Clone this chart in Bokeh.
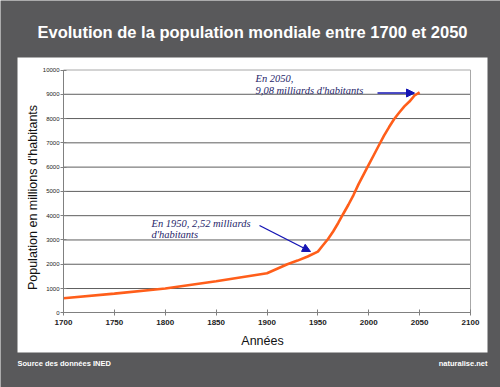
import math
from bokeh.plotting import figure
from bokeh.models import Range1d, FixedTicker, Arrow, NormalHead
from bokeh.core.properties import value
from bokeh.embed import file_html
from bokeh.resources import INLINE

# ---------------- data ----------------
years = [1700, 1750, 1800, 1850, 1900, 1920, 1930, 1940, 1950, 1955, 1960, 1965,
         1970, 1975, 1980, 1985, 1990, 1995, 2000, 2005, 2010, 2015, 2020, 2025,
         2030, 2035, 2040, 2045, 2050]
population = [600, 790, 1000, 1300, 1630, 2000, 2150, 2320, 2520, 2780, 3040, 3350,
              3700, 4080, 4450, 4850, 5300, 5700, 6100, 6500, 6900, 7300, 7650, 7980,
              8250, 8500, 8700, 8950, 9080]
x_ticks = [1700, 1750, 1800, 1850, 1900, 1950, 2000, 2050, 2100]
y_ticks = [0, 1000, 2000, 3000, 4000, 5000, 6000, 7000, 8000, 9000, 10000]

title_text = "Evolution de la population mondiale entre 1700 et 2050"
x_label = "Années"
y_label = "Population en millions d'habitants"
source_text = "Source des données INED"
site_text = "naturalise.net"
note_1950 = ["En 1950, 2,52 milliards", "d'habitants"]
note_2050 = ["En 2050,", "9,08 milliards d'habitants"]

# ---------------- layout helpers (pixel -> data) ----------------
W, H = 500, 387
M = 0
PX_X0, PX_X1 = 63.0, 470.0      # pixel of 1700 and 2100
PX_Y0, PX_Y1 = 312.3, 69.5      # pixel of 0 and 10000
kx = (PX_X1 - PX_X0) / (x_ticks[-1] - x_ticks[0])
ky = (PX_Y0 - PX_Y1) / (y_ticks[-1] - y_ticks[0])


def X(px):
    return x_ticks[0] + (px - PX_X0) / kx


def Y(py):
    return (PX_Y0 - py) / ky


BG = "#59595b"

p = figure(width=W, height=H, output_backend="svg", toolbar_location=None,
           x_range=Range1d(X(M), X(M + W)), y_range=Range1d(Y(M + H), Y(M)),
           min_border=0, min_border_left=0, min_border_right=0,
           min_border_top=0, min_border_bottom=0)
p.title.visible = False
p.background_fill_color = BG
p.border_fill_color = BG
p.outline_line_color = None
p.xgrid.visible = False
p.ygrid.visible = False

# white panel
p.quad(left=X(17), right=X(487), top=Y(57), bottom=Y(352),
       fill_color="white", line_color=None)

# gridlines
gy = y_ticks[1:-1]
p.segment(x0=[x_ticks[0]] * len(gy), x1=[x_ticks[-1]] * len(gy), y0=gy, y1=gy,
          line_color="#5e5e5e", line_width=1)
# plot box top & right
p.segment(x0=[x_ticks[0], x_ticks[-1]], x1=[x_ticks[-1], x_ticks[-1]],
          y0=[y_ticks[-1], y_ticks[0]], y1=[y_ticks[-1], y_ticks[-1]],
          line_color="#a8a8a8", line_width=1)

# data line
p.line(years, population, line_color="#ff5e1a", line_width=2.6)

# axes at fixed locations
xa = p.xaxis[0]
ya = p.yaxis[0]
xa.fixed_location = y_ticks[0]
ya.fixed_location = x_ticks[0]
xa.bounds = (x_ticks[0], x_ticks[-1])
ya.bounds = (y_ticks[0], y_ticks[-1])
xa.ticker = FixedTicker(ticks=x_ticks)
ya.ticker = FixedTicker(ticks=y_ticks)
for ax in (xa, ya):
    ax.axis_line_color = "#808080"
    ax.axis_line_width = 1
    ax.major_tick_line_color = "#808080"
    ax.major_tick_in = 3
    ax.major_tick_out = 3
    ax.minor_tick_line_color = None
    ax.major_label_text_font = "Liberation Sans"
    ax.major_label_text_color = "#222222"
xa.major_label_text_font_size = "8px"
xa.major_label_text_font_style = "bold"
xa.major_label_standoff = 4
ya.major_label_text_font_size = "6px"
ya.major_label_standoff = 1

# axis titles
p.text(x=[X(262)], y=[Y(340)], text=[x_label], text_font=value("Liberation Sans"),
       text_font_size="12.5px", text_color="#111111", text_align="center",
       text_baseline="middle")
p.text(x=[X(32)], y=[Y(197)], text=[y_label], text_font=value("Liberation Sans"),
       text_font_size="12.5px", text_color="#111111", text_align="center",
       text_baseline="middle", angle=math.pi / 2)

# title and footer
p.text(x=[X(252)], y=[Y(31)], text=[title_text], text_font=value("Liberation Sans"),
       text_font_size="16.5px", text_font_style="bold", text_color="white",
       text_align="center", text_baseline="middle")
p.text(x=[X(17)], y=[Y(363)], text=[source_text], text_font=value("Liberation Sans"),
       text_font_size="7.5px", text_font_style="bold", text_color="white",
       text_align="left", text_baseline="middle")
p.text(x=[X(487)], y=[Y(363)], text=[site_text], text_font=value("Liberation Sans"),
       text_font_size="7.5px", text_font_style="bold", text_color="white",
       text_align="right", text_baseline="middle")

# annotations
NOTE_C = "#26266a"
ARROW_C = "#1414b4"
p.text(x=[X(151), X(151)], y=[Y(223), Y(234)], text=note_1950,
       text_font=value("Liberation Serif"), text_font_size="10.5px",
       text_font_style="italic", text_color=NOTE_C, text_align="left",
       text_baseline="middle")
p.text(x=[X(255), X(255)], y=[Y(78), Y(89.5)], text=note_2050,
       text_font=value("Liberation Serif"), text_font_size="10.5px",
       text_font_style="italic", text_color=NOTE_C, text_align="left",
       text_baseline="middle")
p.add_layout(Arrow(end=NormalHead(size=8, fill_color=ARROW_C, line_color=ARROW_C),
                   x_start=X(259), y_start=Y(225), x_end=X(310), y_end=Y(251),
                   line_color=ARROW_C, line_width=1.4))
p.add_layout(Arrow(end=NormalHead(size=8, fill_color=ARROW_C, line_color=ARROW_C),
                   x_start=X(377), y_start=Y(92.5), x_end=X(414), y_end=Y(92.5),
                   line_color=ARROW_C, line_width=1.4))

open("out.html", "w").write(file_html(p, INLINE))
